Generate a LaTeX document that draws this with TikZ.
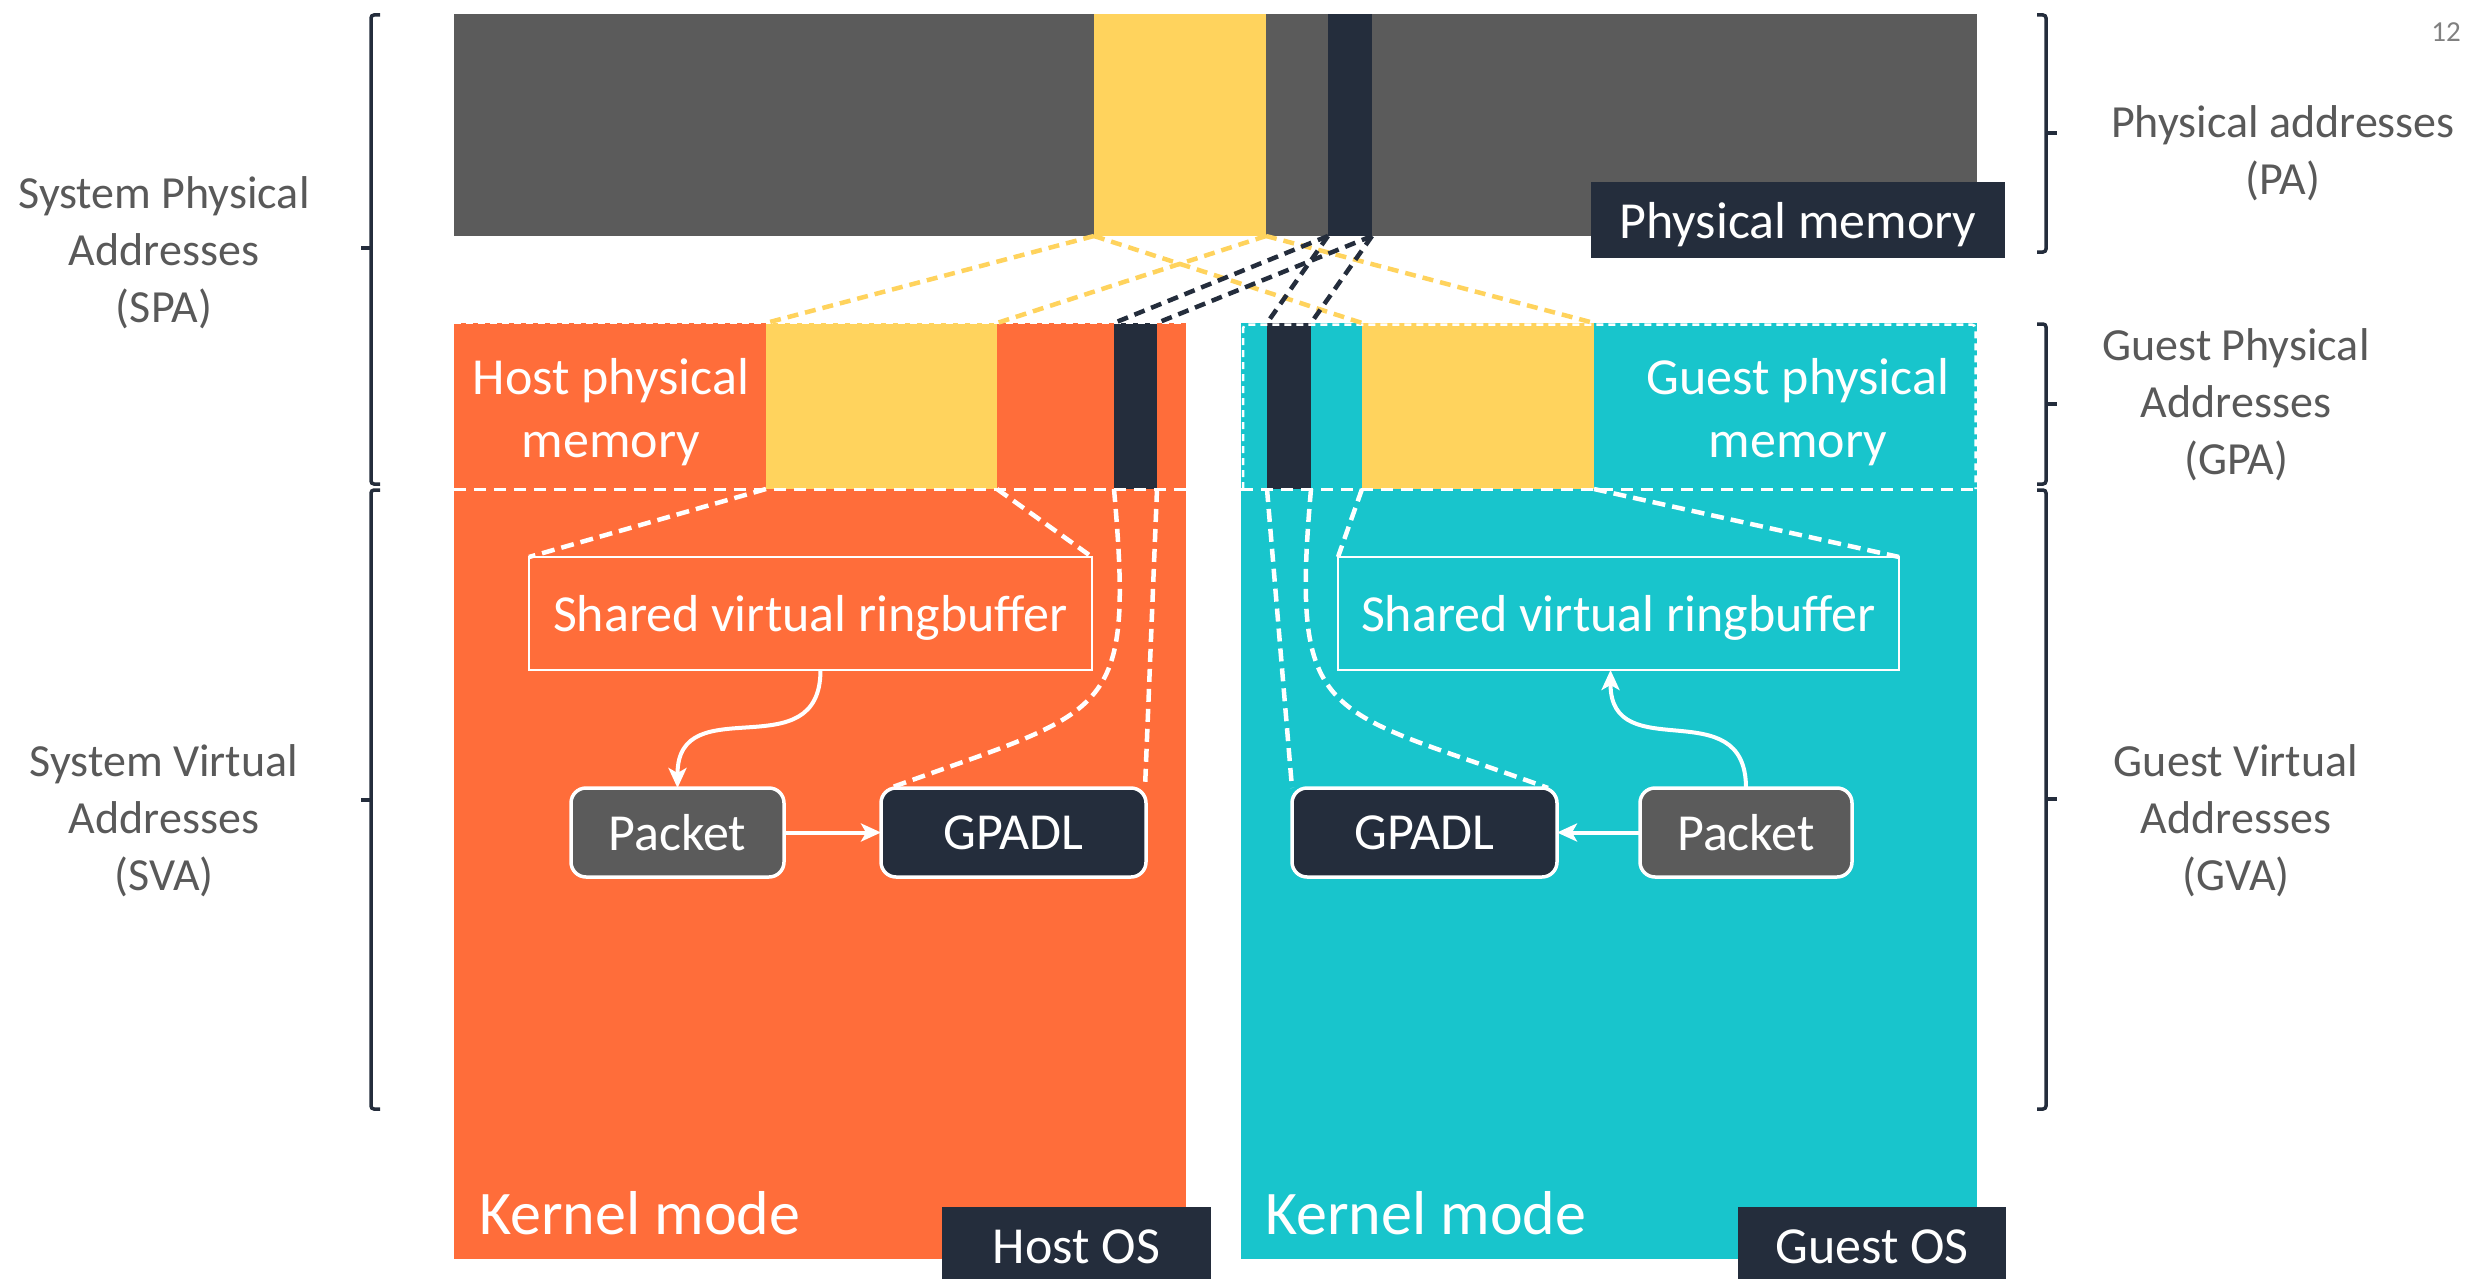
\documentclass[tikz,border=0pt]{standalone}
\usepackage{fontspec}
\setmainfont{Carlito}
\usetikzlibrary{arrows.meta}

\definecolor{bargray}{HTML}{5B5B5B}
\definecolor{memyellow}{HTML}{FFD35D}
\definecolor{hostorange}{HTML}{FF6D3A}
\definecolor{guestteal}{HTML}{18C5CC}
\definecolor{navy}{HTML}{242D3C}
\definecolor{sidegray}{HTML}{595959}
\definecolor{numgray}{HTML}{808080}

\begin{document}
\begin{tikzpicture}[x=1pt,y=-1pt,
  blk/.style={anchor=north west, inner sep=0pt, outer sep=0pt, draw=none},
  lbl/.style={text=white, font=\fontsize{52}{63}\selectfont},
  boxtext/.style={lbl, text depth=0pt},
  side/.style={text=sidegray, font=\fontsize{46}{57}\selectfont, align=center},
  ybond/.style={draw=memyellow, line width=4.5pt, dash pattern=on 11pt off 7pt},
  nbond/.style={draw=navy, line width=4.5pt, dash pattern=on 11pt off 7pt},
  wbond/.style={draw=white, line width=4.5pt, dash pattern=on 13pt off 7pt},
  splitline/.style={draw=white, line width=3pt, dash pattern=on 12pt off 8pt},
  rim/.style={draw=white, line width=2.5pt, dash pattern=on 7pt off 5pt},
  flow/.style={draw=white, line width=4pt, -{Stealth[length=20pt,width=18pt,inset=5pt]}},
  ringbox/.style={blk, draw=white, line width=2.5pt, boxtext},
  chip/.style={blk, draw=white, line width=3.5pt, rounded corners=15pt, boxtext},
  bracepath/.style={draw=navy, line width=3.5pt, rounded corners=3pt},
]
\useasboundingbox (0,0) rectangle (2473,1279);

% physical memory bar
\node[blk, fill=bargray, minimum width=1523pt, minimum height=222pt] (phys) at (454,14) {};
\node[blk, fill=memyellow, minimum width=172pt, minimum height=222pt] (physY) at (1094,14) {};
\node[blk, fill=navy, minimum width=44pt, minimum height=222pt] (physD) at (1328,14) {};
\node[blk, fill=navy, minimum width=414pt, minimum height=76pt, boxtext] (pmlbl) at (1591,182) {Physical memory};

% host and guest columns
\node[blk, fill=hostorange, minimum width=732pt, minimum height=936pt] (host) at (454,323) {};
\node[blk, fill=memyellow, minimum width=231pt, minimum height=166pt] (hostY) at (766,323) {};
\node[blk, fill=navy, minimum width=43pt, minimum height=166pt] (hostD) at (1114,323) {};
\node[blk, fill=guestteal, minimum width=736pt, minimum height=936pt] (guest) at (1241,323) {};
\node[blk, fill=navy, minimum width=44pt, minimum height=166pt] (guestD) at (1267,323) {};
\node[blk, fill=memyellow, minimum width=232pt, minimum height=166pt] (guestY) at (1362,323) {};

% dashed borders of the physical-memory strips
\draw[rim] (host.north west) -- (host.north east);
\draw[splitline] (host.west |- hostY.south) -- (host.east |- hostY.south);
\draw[rim, rounded corners=4pt] (1243,489) -- (1243,324.5) -- (1975.5,324.5) -- (1975.5,489);
\draw[splitline] (guest.west |- guestY.south) -- (guest.east |- guestY.south);

\node[lbl, align=center] (hpm) at (611,412) {Host physical\\memory};
\node[lbl, align=center] (gpm) at (1798,412) {Guest physical\\memory};

% mappings from physical memory
\draw[ybond] (physY.south west) -- (hostY.north west);
\draw[ybond] (physY.south east) -- (hostY.north east);
\draw[ybond] (physY.south west) -- (guestY.north west);
\draw[ybond] (physY.south east) -- (guestY.north east);
\draw[nbond] (physD.south west) -- (hostD.north west);
\draw[nbond] (physD.south east) -- (hostD.north east);
\draw[nbond] (physD.south west) -- (guestD.north west);
\draw[nbond] (physD.south east) -- (guestD.north east);

% virtual-address boxes
\node[ringbox, minimum width=563pt, minimum height=113pt] (ring1) at (529,557) {Shared virtual ringbuffer};
\node[ringbox, minimum width=561pt, minimum height=113pt] (ring2) at (1338,557) {Shared virtual ringbuffer};
\node[chip, fill=bargray, minimum width=213pt, minimum height=89pt] (pkt1) at (571,788) {Packet};
\node[chip, fill=navy, minimum width=265pt, minimum height=89pt] (gp1) at (881,788) {GPADL};
\node[chip, fill=navy, minimum width=265pt, minimum height=89pt] (gp2) at (1292,788) {GPADL};
\node[chip, fill=bargray, minimum width=212pt, minimum height=89pt] (pkt2) at (1640,788) {Packet};

% host-side mappings
\draw[wbond] (hostY.south west) -- (ring1.north west);
\draw[wbond] (hostY.south east) -- (ring1.north east);
\draw[wbond] (hostD.south west) to[out=-85,in=20,looseness=1.6] ([xshift=9pt]gp1.north west);
\draw[wbond] (hostD.south east) -- ([xshift=-1pt]gp1.north east);

% guest-side mappings
\draw[wbond] (guestY.south west) -- (ring2.north west);
\draw[wbond] (guestY.south east) -- (ring2.north east);
\draw[wbond] (guestD.south west) -- (gp2.north west);
\draw[wbond] (guestD.south east) to[out=-95,in=160,looseness=1.6] ([xshift=-9pt]gp2.north east);

% data flow
\draw[flow] ([xshift=10pt]ring1.south) to[out=-90,in=90,looseness=1.4] (pkt1.north);
\draw[flow] (pkt1.east) -- (gp1.west);
\draw[flow] (pkt2.north) to[out=90,in=-90,looseness=1.4] ([xshift=-8pt]ring2.south);
\draw[flow] (pkt2.west) -- (gp2.east);

% mode and OS labels
\node[anchor=base west, inner sep=0pt, text=white, font=\fontsize{62}{64}\selectfont] (km1) at (479,1234) {Kernel mode};
\node[anchor=base west, inner sep=0pt, text=white, font=\fontsize{62}{64}\selectfont] (km2) at (1265,1234) {Kernel mode};
\node[blk, fill=navy, minimum width=269pt, minimum height=72pt, boxtext, text height=40pt] (hostos) at (942,1207) {Host OS};
\node[blk, fill=navy, minimum width=268pt, minimum height=72pt, boxtext, text height=40pt] (guestos) at (1738,1207) {Guest OS};

% address-space braces
\draw[bracepath] (380,15) -- (371,15) -- (371,484) -- (380,484);
\draw[bracepath] (371,248) -- (361,248);
\draw[bracepath] (380,490) -- (371,490) -- (371,1109) -- (380,1109);
\draw[bracepath] (371,800) -- (361,800);
\draw[bracepath] (2037,15) -- (2046,15) -- (2046,252) -- (2037,252);
\draw[bracepath] (2046,133) -- (2057,133);
\draw[bracepath] (2037,324) -- (2046,324) -- (2046,484) -- (2037,484);
\draw[bracepath] (2046,404) -- (2057,404);
\draw[bracepath] (2037,490) -- (2046,490) -- (2046,1109) -- (2037,1109);
\draw[bracepath] (2046,799) -- (2057,799);

% address-space labels
\node[side] (spa) at (164,253) {System Physical\\Addresses\\(SPA)};
\node[side] (sva) at (164,821) {System Virtual\\Addresses\\(SVA)};
\node[side] (pa) at (2283,153) {Physical addresses\\(PA)};
\node[side] (gpa) at (2236,405) {Guest Physical\\Addresses\\(GPA)};
\node[side] (gva) at (2236,821) {Guest Virtual\\Addresses\\(GVA)};

\node[text=numgray, font=\fontsize{29}{30}\selectfont] (pgno) at (2446,32) {12};
\end{tikzpicture}
\end{document}
